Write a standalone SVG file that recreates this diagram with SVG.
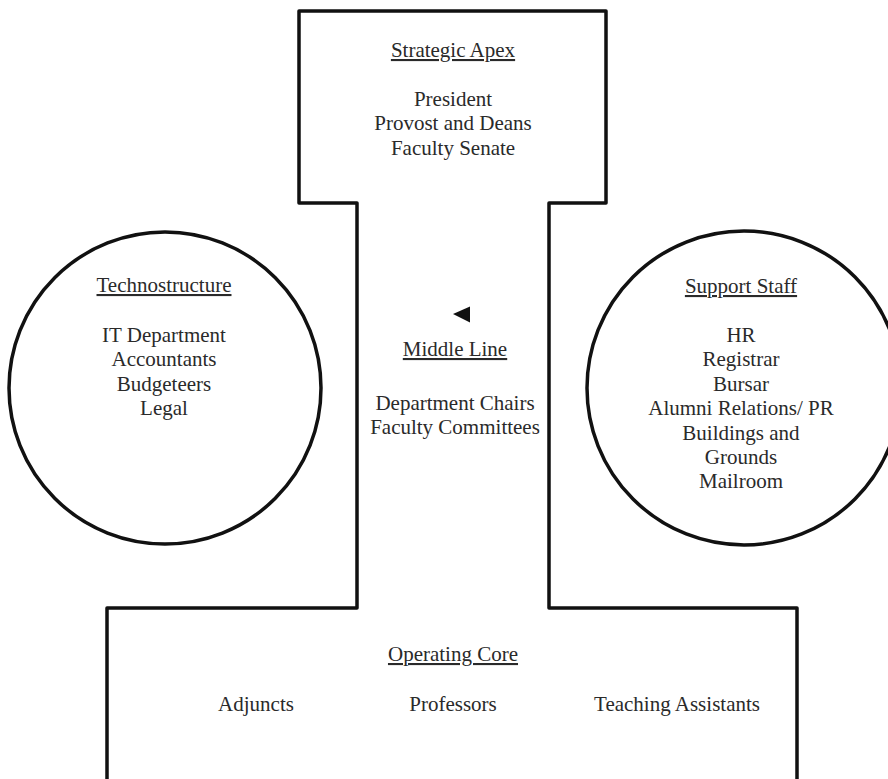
<svg xmlns="http://www.w3.org/2000/svg" width="888" height="779" viewBox="0 0 888 779">
  <style>
    .outline { fill: none; stroke: #111; stroke-width: 3.5; stroke-linejoin: round; stroke-linecap: round; }
    .ring { fill: none; stroke: #111; stroke-width: 3.5; }
    text { font-family: "Liberation Serif", "Times New Roman", serif; font-size: 21px; fill: #2a2a2a; text-anchor: middle; }
    .head { text-decoration: underline; }
  </style>
  <rect width="888" height="779" fill="#fff"/>

  <!-- Connectors: the shared outline of apex, middle line and operating core -->
  <g id="connectors">
    <path class="outline" d="M357,608 L357,203 L299,203 L299,11 L606,11 L606,203 L549,203 L549,608 L797,608 L797,785 M357,608 L107,608 L107,785"/>
  </g>

  <g id="strategic-apex">
    <text class="head" x="453" y="57">Strategic Apex</text>
    <text x="453" y="106">President</text>
    <text x="453" y="130">Provost and Deans</text>
    <text x="453" y="155">Faculty Senate</text>
  </g>

  <g id="middle-line">
    <polygon points="453,314 470,306.5 470,322.5" fill="#111"/>
    <text class="head" x="455" y="356">Middle Line</text>
    <text x="455" y="410">Department Chairs</text>
    <text x="455" y="434">Faculty Committees</text>
  </g>

  <g id="technostructure">
    <circle class="ring" cx="165" cy="388" r="156"/>
    <text class="head" x="164" y="292">Technostructure</text>
    <text x="164" y="342">IT Department</text>
    <text x="164" y="366">Accountants</text>
    <text x="164" y="391">Budgeteers</text>
    <text x="164" y="415">Legal</text>
  </g>

  <g id="support-staff">
    <circle class="ring" cx="744" cy="388" r="157"/>
    <text class="head" x="741" y="293">Support Staff</text>
    <text x="741" y="342">HR</text>
    <text x="741" y="366">Registrar</text>
    <text x="741" y="391">Bursar</text>
    <text x="741" y="415">Alumni Relations/ PR</text>
    <text x="741" y="440">Buildings and</text>
    <text x="741" y="464">Grounds</text>
    <text x="741" y="488">Mailroom</text>
  </g>

  <g id="operating-core">
    <text class="head" x="453" y="661">Operating Core</text>
    <text x="256" y="711">Adjuncts</text>
    <text x="453" y="711">Professors</text>
    <text x="677" y="711">Teaching Assistants</text>
  </g>
</svg>
